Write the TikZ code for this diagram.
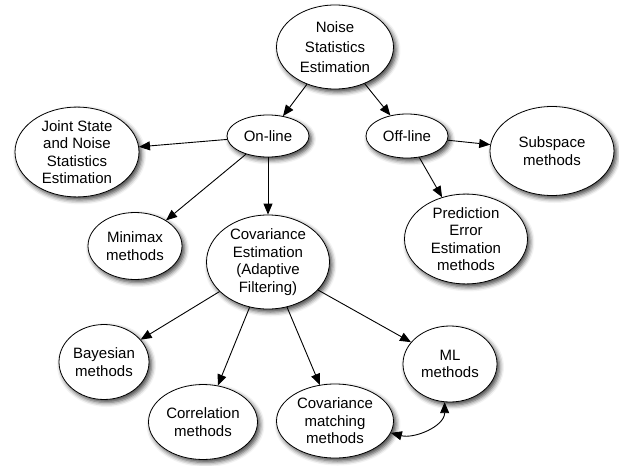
\documentclass[tikz,border=0pt]{standalone}
\usepackage{fontspec}
\setmainfont{Liberation Sans}
\usetikzlibrary{shapes.geometric,arrows.meta,shadows.blur}
\tikzset{
  bubble/.style={ellipse,draw,thick,fill=white,inner sep=0pt,align=center,
    font=\fontsize{15}{17.5}\selectfont,
    blur shadow={shadow xshift=2.5pt,shadow yshift=-3pt,shadow blur radius=4.5pt,shadow opacity=75}},
  link/.style={-{Triangle[length=11pt,width=9pt]},line width=0.9pt}
}
\begin{document}
\begin{tikzpicture}[x=1pt,y=-1pt]
    \useasboundingbox (0,0) rectangle (619,466);
    \node[bubble,minimum width=117pt,minimum height=84pt,font=\fontsize{15}{20}\selectfont] (nse) at (335,47) {Noise\\Statistics\\Estimation};
    \node[bubble,minimum width=82pt,minimum height=42pt] (online) at (268,136) {On-line};
    \node[bubble,minimum width=82pt,minimum height=44pt] (offline) at (407,136) {Off-line};
    \node[bubble,minimum width=124pt,minimum height=88pt] (joint) at (77,152) {Joint State\\and Noise\\Statistics\\Estimation};
    \node[bubble,minimum width=124pt,minimum height=89pt] (subspace) at (552,151) {Subspace\\methods};
    \node[bubble,minimum width=123pt,minimum height=86pt] (pee) at (466,239) {Prediction\\Error\\Estimation\\methods};
    \node[bubble,minimum width=94pt,minimum height=67pt] (minimax) at (135,246) {Minimax\\methods};
    \node[bubble,minimum width=123pt,minimum height=88pt] (cove) at (268,262) {Covariance\\Estimation\\(Adaptive\\Filtering)};
    \node[bubble,minimum width=90pt,minimum height=75pt] (bayes) at (104,362) {Bayesian\\methods};
    \node[bubble,minimum width=94pt,minimum height=76pt] (ml) at (450,364) {ML\\methods};
    \node[bubble,minimum width=109pt,minimum height=75pt] (corr) at (203,422) {Correlation\\methods};
    \node[bubble,minimum width=117pt,minimum height=74pt] (covm) at (335,421) {Covariance\\matching\\methods};
    \draw[link] (nse) -- (online);
    \draw[link] (nse) -- (offline);
    \draw[link] (online) -- (joint);
    \draw[link] (online) -- (minimax);
    \draw[link] (online) -- (cove);
    \draw[link] (offline) -- (subspace);
    \draw[link] (offline) -- (pee);
    \draw[link] (cove) -- (bayes);
    \draw[link] (cove) -- (corr);
    \draw[link] (cove) -- (covm);
    \draw[link] (cove) -- (ml);
    \draw[{Triangle[length=11pt,width=9pt]}-{Triangle[length=11pt,width=9pt]},line width=0.9pt]
      (covm.-12) to[out=-15,in=-90] (ml.-98);
\end{tikzpicture}
\end{document}
